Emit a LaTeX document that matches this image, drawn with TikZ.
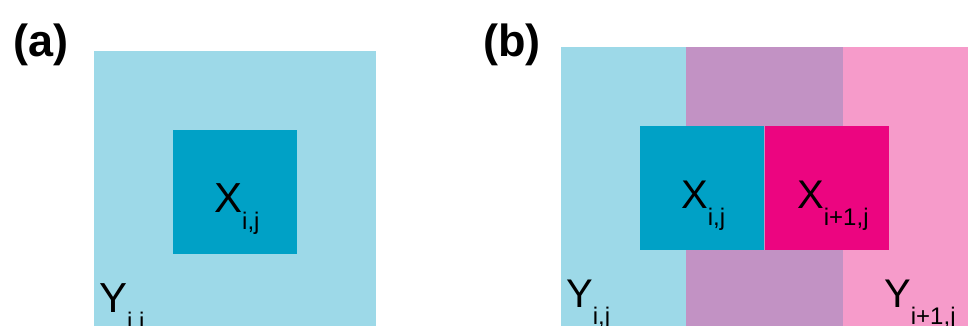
\documentclass[tikz,border=0pt]{standalone}
\usepackage{fontspec}
\setmainfont{Liberation Sans}
\definecolor{lcyan}{RGB}{157,217,232}
\definecolor{dcyan}{RGB}{0,161,198}
\definecolor{lpurple}{RGB}{194,146,196}
\definecolor{lpink}{RGB}{246,155,202}
\definecolor{magent}{RGB}{236,5,128}
\newcommand\sublab[3]{{\fontsize{#1}{#1}\selectfont #2}\raisebox{-17pt}{\fontsize{24}{24}\selectfont #3}}
\tikzset{
  lab/.style={anchor=base west, inner sep=0pt, text=black},
  panel/.style={anchor=base west, inner sep=0pt, font=\fontsize{45}{45}\selectfont\bfseries}
}
\begin{document}
\begin{tikzpicture}[x=1pt,y=-1pt]
\useasboundingbox (0,0) rectangle (968,326);
% (a)
\fill[lcyan] (94,51) rectangle (376,326);
\fill[dcyan] (173,130) rectangle (297,254);
\node[panel] (pa) at (13,57) {(a)};
\node[lab] (xa) at (214,212) {\sublab{42}{X}{i,j}};
\node[lab] (ya) at (99,312) {\sublab{42}{Y}{i,j}};
% (b)
\fill[lcyan] (561,47) rectangle (686,326);
\fill[lpurple] (686,47) rectangle (843,326);
\fill[lpink] (843,47) rectangle (968,326);
\fill[dcyan] (640,126) rectangle (764,250);
\fill[magent] (764.6,126) rectangle (889,250);
\node[panel] (pb) at (483,57) {(b)};
\node[lab] (xb) at (681,208) {\sublab{40}{X}{i,j}};
\node[lab] (xc) at (797,208) {\sublab{40}{X}{i+1,j}};
\node[lab] (yb) at (566,307) {\sublab{40}{Y}{i,j}};
\node[lab] (yc) at (884,307) {\sublab{40}{Y}{i+1,j}};
\end{tikzpicture}
\end{document}
